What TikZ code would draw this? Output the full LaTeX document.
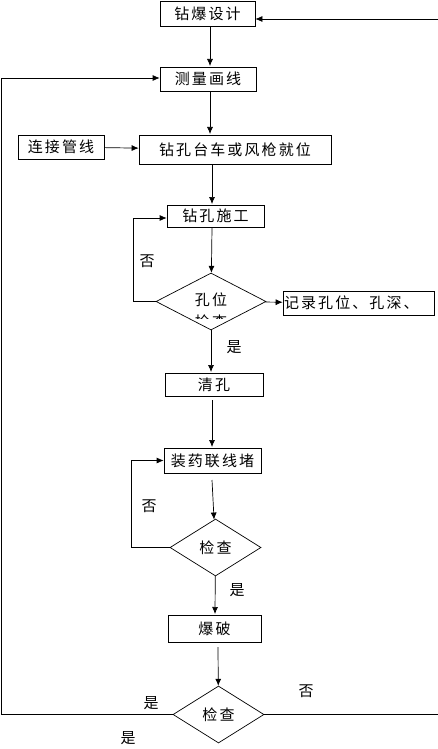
\documentclass[tikz,border=0pt]{standalone}
\usepackage{fontspec}
\usepackage{tikz}
\usetikzlibrary{arrows.meta, shapes.geometric, positioning}
\newfontfamily\zh[LetterSpace=14]{Noto Sans CJK SC}
\newcommand{\zhfont}{\zh\fontsize{15pt}{22pt}\selectfont}

\begin{document}
\begin{tikzpicture}[
    x=1pt, y=-1pt, line width=0.7pt,
    box/.style={rectangle, draw, minimum height=25pt, inner sep=0pt, font=\zhfont},
    decide/.style={diamond, draw, inner sep=0pt, font=\zhfont},
    note/.style={font=\zhfont, inner sep=0pt},
    arrow/.style={-{Latex[length=7pt, width=6pt]}}
]
    \useasboundingbox (0,0) rectangle (438,749);

    \node[box, minimum width=95pt] (zbsj) at (207.5,13.5) {钻爆设计};
    \node[box, minimum width=96pt, minimum height=24pt] (clhx) at (208,79) {测量画线};
    \node[box, minimum width=86pt, minimum height=24pt] (ljgx) at (61,147) {连接管线};
    \node[box, minimum width=192pt, minimum height=29pt] (zktc) at (235,149.5) {钻孔台车或风枪就位};
    \node[box, minimum width=97pt, minimum height=22pt] (zksg) at (215.5,216) {钻孔施工};
    \node[decide, minimum width=110pt, minimum height=57pt] (kwjc) at (211,301.5) {};
    \node[box, minimum width=151pt, minimum height=24pt, text width=149pt, align=left] (jlkw) at (358.5,303) {记录孔位、孔深、};
    \node[box, minimum width=98pt, minimum height=23pt] (qk) at (214,384.5) {清孔};
    \node[box, minimum width=97pt, minimum height=25pt] (zylx) at (212.5,460.5) {装药联线堵};
    \node[decide, minimum width=91pt, minimum height=57pt] (jc1) at (215.5,547.5) {检查};
    \node[box, minimum width=93pt, minimum height=27pt] (bp) at (214.5,628.5) {爆破};
    \node[decide, minimum width=91pt, minimum height=57pt] (jc2) at (218.5,714.5) {检查};

    % text of the first diamond, cut off at the bottom
    \begin{scope}
        \clip (150,285) rectangle (270,318);
        \node[note, align=center, anchor=north] (kwjct) at (211,292) {孔位\\检查};
    \end{scope}

    \node[note] (f1) at (147,261) {否};
    \node[note] (s1) at (234,347) {是};
    \node[note] (f2) at (149,506) {否};
    \node[note] (s2) at (237,590) {是};
    \node[note] (s3) at (151,703) {是};
    \node[note] (f3) at (306,691) {否};
    \node[note] (s4) at (128,738) {是};

    \coordinate (lt) at (1,78);
    \coordinate (lb) at (1,714.5);
    \coordinate (rt) at (439,19);
    \coordinate (rb) at (439,714.5);
    \coordinate (la) at (133,301.5);
    \coordinate (lc) at (131,547.5);

    \draw[arrow] (210,27) -- (210,66);
    \draw[arrow] (210,92) -- (210,134);
    \draw[arrow] (ljgx) -- (zktc);
    \draw[arrow] (212,165) -- (212,204);
    \draw[arrow] (212,228) -- (kwjc);
    \draw[arrow] (kwjc) -- (jlkw);
    \draw[arrow] (kwjc.west) -- (la) |- ([yshift=-2pt]zksg.west);
    \draw[arrow] (kwjc) -- (211,372);
    \draw[arrow] (212,400) -- (212,447);
    \draw[arrow] (212,480) -- (jc1);
    \draw[arrow] (jc1.west) -- (lc) |- (zylx.west);
    \draw[arrow] (jc1) -- (215,614);
    \draw[arrow] (218,647) -- (jc2);
    \draw[arrow] (jc2.west) -- (lb) -- (lt) -- (clhx.west |- lt);
    \draw[arrow] (jc2.east) -- (rb) -- (rt) -- (zbsj.east |- rt);
\end{tikzpicture}
\end{document}
